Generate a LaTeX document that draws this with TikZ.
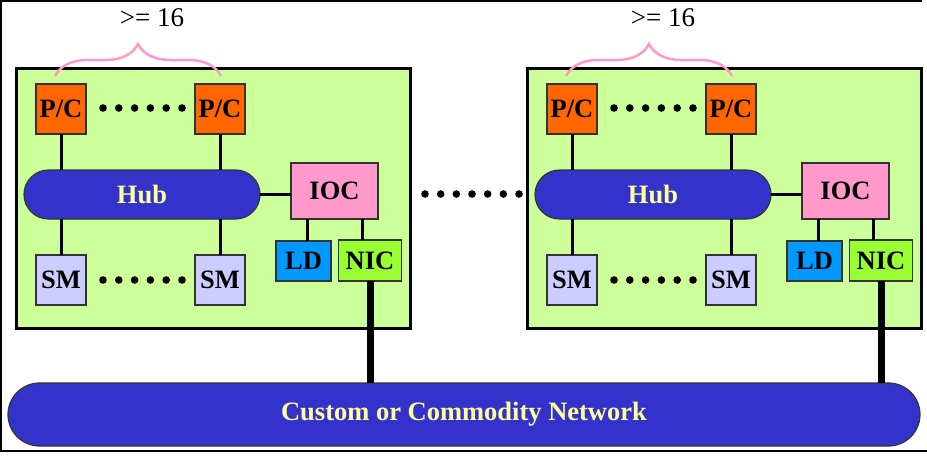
\documentclass[tikz,border=0pt]{standalone}
\usepackage{fontspec}
\setmainfont{Liberation Serif}
\usetikzlibrary{decorations.pathreplacing}
\definecolor{nboard}{HTML}{CCFF99}
\definecolor{npc}{HTML}{FF6600}
\definecolor{nsm}{HTML}{CCCCFF}
\definecolor{nhub}{HTML}{3333CC}
\definecolor{nyellow}{HTML}{FFFF99}
\definecolor{nioc}{HTML}{FF99CC}
\definecolor{nld}{HTML}{0099FF}
\definecolor{nnic}{HTML}{99FF33}

\begin{document}
\begin{tikzpicture}[x=1pt,y=-1pt]
    \tikzstyle{every node}=[inner sep=0,outer sep=0,font=\bfseries\fontsize{26.5}{26.5}\selectfont]
    \tikzstyle{box}=[draw=black!80,line width=1.2pt,minimum width=50pt,minimum height=50pt]
    \tikzstyle{board}=[draw=black,line width=3pt,fill=nboard,minimum width=394pt,minimum height=260pt]
    \tikzstyle{bus}=[draw=black!80,line width=1.2pt,fill=nhub,text=nyellow]
    \tikzstyle{wire}=[line width=3pt]
    \useasboundingbox (0,0) rectangle (927,456);
    \draw[line width=1.5pt] (922,1) -- (1,1) -- (1,451) -- (927,451);
    \node[bus,minimum width=912pt,minimum height=63pt,rounded corners=31.5pt] (net) at (464,414.5) {Custom or Commodity Network};
    \foreach \b/\dx in {l/0,r/511}{
    \begin{scope}[xshift=\dx pt]
        \node[board] (board\b) at (213,198) {};
        \node[box,fill=npc] (pcA\b) at (61,109) {P/C};
        \node[box,fill=npc] (pcB\b) at (220,109) {P/C};
        \node[bus,minimum width=236pt,minimum height=49pt,rounded corners=24.5pt] (hub\b) at (142,194.5) {Hub};
        \node[box,fill=nsm] (smA\b) at (61,280) {SM};
        \node[box,fill=nsm] (smB\b) at (220,280) {SM};
        \node[box,fill=nioc,minimum width=87pt,minimum height=56pt] (ioc\b) at (334.5,191) {IOC};
        \node[box,fill=nld,minimum width=55pt,minimum height=40pt] (ld\b) at (303.5,261) {LD};
        \node[box,fill=nnic,minimum width=63pt,minimum height=41pt] (nic\b) at (370,260.5) {NIC};
        \node[font=\fontsize{27}{27}\selectfont] (count\b) at (152,18) {>= 16};
        \draw[wire] (pcA\b) -- (pcA\b |- hub\b.north);
        \draw[wire] (pcB\b) -- (pcB\b |- hub\b.north);
        \draw[wire] (smA\b) -- (smA\b |- hub\b.south);
        \draw[wire] (smB\b) -- (smB\b |- hub\b.south);
        \draw[wire] (hub\b.east) -- (hub\b.east -| ioc\b.west);
        \draw[wire] ([xshift=3.5pt]ld\b.north) -- ([xshift=3.5pt]ld\b.north |- ioc\b.south);
        \draw[wire] ([xshift=-8pt]nic\b.north) -- ([xshift=-8pt]nic\b.north |- ioc\b.south);
        \draw[line width=7pt] (nic\b.south) -- (nic\b.south |- net.north);
        \draw[nioc,line width=2.5pt,decorate,decoration={brace,amplitude=32pt}] (55,76) -- (221,76);
        \foreach \i in {0,...,5}{
            \fill (103+\i*15.8,108) circle (3.8pt);
            \fill (103+\i*15.8,280) circle (3.8pt);
        }
    \end{scope}
    }
    \foreach \i in {0,...,6}
        \fill (425+\i*15.67,194) circle (3.8pt);
\end{tikzpicture}
\end{document}
